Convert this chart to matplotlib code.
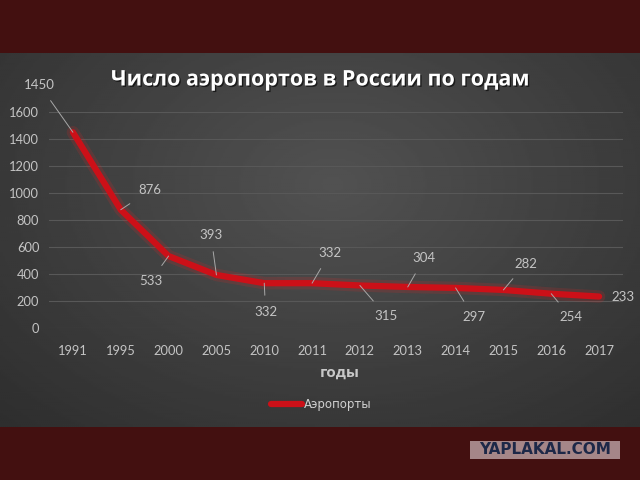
import numpy as np
import matplotlib.pyplot as plt
import matplotlib.patheffects as pe
from matplotlib.patches import Rectangle

# Data
years = ["1991", "1995", "2000", "2005", "2010", "2011",
         "2012", "2013", "2014", "2015", "2016", "2017"]
airports = [1450, 876, 533, 393, 332, 332, 315, 304, 297, 282, 254, 233]
# label offsets in points (dx, dy) relative to each point
label_offsets = [(-24, 34), (21, 14), (-13, -18), (-4, 29), (1, -21), (13, 22),
                 (19, -22), (12, 21), (13, -21), (16, 19), (14, -17), (9, 0)]
y_ticks = [0, 200, 400, 600, 800, 1000, 1200, 1400, 1600]

maroon = "#431010"
grid_col = "#585858"
tick_col = "#c4c4c4"
line_red = "#cc1018"

fig = plt.figure(figsize=(6.4, 4.8), dpi=100, facecolor=maroon)

# dark gray panel with radial gradient
bg = fig.add_axes([0, 1 - 427 / 480, 1, (427 - 53) / 480])
gx, gy = np.meshgrid(np.linspace(0, 1, 320), np.linspace(0, 1, 200))
r = np.sqrt(((gx - 0.52) / 0.75) ** 2 + ((gy - 0.35) / 0.9) ** 2)
shade = np.clip(0.32 - 0.14 * r, 0.18, 0.33)
bg.imshow(shade, cmap="gray", vmin=0, vmax=1, aspect="auto",
          extent=[0, 1, 0, 1], origin="upper")
bg.set_axis_off()

ax = fig.add_axes([49 / 640, 1 - 328 / 480, (623 - 49) / 640, (328 - 112) / 480])
ax.set_facecolor("none")
x = np.arange(len(years))

# glow under the line, then the line itself
ax.plot(x, airports, color="#ff2020", lw=9, alpha=0.15, solid_capstyle="round", zorder=3)
ax.plot(x, airports, color=line_red, lw=4.5, solid_capstyle="round",
        solid_joinstyle="round", zorder=4, label="Аэропорты")

for xi, v, (dx, dy) in zip(x, airports, label_offsets):
    if dy == 0:
        ax.annotate(str(v), (xi, v), xytext=(dx, dy), textcoords="offset points",
                    ha="left", va="center", color=tick_col, fontsize=9.5,
                    family="Lato", zorder=5)
    else:
        ax.annotate(str(v), (xi, v), xytext=(dx, dy), textcoords="offset points",
                    ha="center", va="center", color=tick_col, fontsize=9.5,
                    family="Lato", zorder=5,
                    arrowprops=dict(arrowstyle="-", color="#a8a8a8", lw=0.7,
                                    shrinkA=6, shrinkB=0))

ax.set_xlim(-0.5, len(years) - 0.5)
ax.set_ylim(0, 1600)
ax.set_yticks(y_ticks)
ax.set_xticks(x)
ax.set_xticklabels(years)
ax.tick_params(length=0, colors=tick_col, labelsize=9.3, pad=7)
for lab in ax.get_xticklabels() + ax.get_yticklabels():
    lab.set_family("Lato")
ax.tick_params(axis="x", pad=12)
ax.grid(axis="y", color=grid_col, lw=0.8)
ax.set_axisbelow(True)
for s in ax.spines.values():
    s.set_visible(False)

ax.set_xlabel("годы", color="#c8c8c8", fontsize=11, fontweight="bold",
              family="Open Sans", labelpad=4)
ax.xaxis.set_label_coords(0.5 + 4 / 574, -0.175)

leg = ax.legend(loc="center", bbox_to_anchor=(0.475, -0.355), frameon=False,
                fontsize=8.5, handlelength=2.6, handletextpad=0.2)
for t in leg.get_texts():
    t.set_color("#d0d0d0")

fig.text(0.5, 1 - 80 / 480, "Число аэропортов в России по годам", ha="center",
         va="center", color="white", fontsize=15.5, fontweight="bold",
         family="Open Sans",
         path_effects=[pe.withSimplePatchShadow(offset=(1, -1), shadow_rgbFace="black", alpha=0.6)])

# watermark
fig.patches.append(Rectangle((470 / 640, 1 - 459 / 480), 150 / 640, 18 / 480,
                             transform=fig.transFigure, facecolor="#a58688",
                             edgecolor="none"))
fig.text(545 / 640, 1 - 450 / 480, "YAPLAKAL.COM", ha="center", va="center",
         color="#1d2848", fontsize=11, fontweight="heavy", family="DejaVu Sans")

fig.savefig("out.png", dpi=100, facecolor=maroon)
